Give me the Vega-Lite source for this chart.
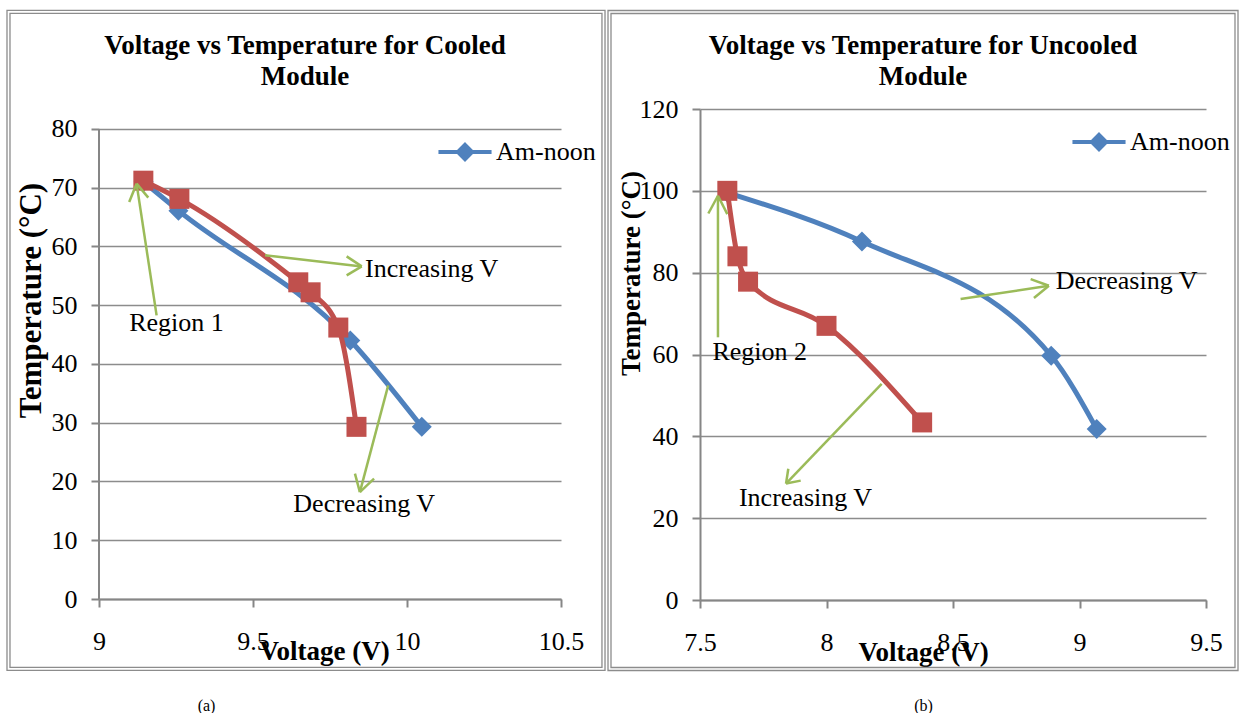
{
  "$schema": "https://vega.github.io/schema/vega-lite/v6.json",
  "background": "white",
  "padding": {"left": 6, "top": 9, "right": 0, "bottom": 0},
  "spacing": 1,
  "datasets": {
    "cooled": [
      {"series": "Am-noon", "voltage": 9.145, "temp": 71.0},
      {"series": "Am-noon", "voltage": 9.258, "temp": 66.1},
      {"series": "Am-noon", "voltage": 9.816, "temp": 44.0},
      {"series": "Am-noon", "voltage": 10.048, "temp": 29.3},
      {"series": "Noon-pm", "voltage": 9.144, "temp": 71.2},
      {"series": "Noon-pm", "voltage": 9.261, "temp": 68.1},
      {"series": "Noon-pm", "voltage": 9.647, "temp": 53.9},
      {"series": "Noon-pm", "voltage": 9.687, "temp": 52.2},
      {"series": "Noon-pm", "voltage": 9.777, "temp": 46.2},
      {"series": "Noon-pm", "voltage": 9.836, "temp": 29.3}
    ],
    "uncooled": [
      {"series": "Am-noon", "voltage": 7.61, "temp": 99.5},
      {"series": "Am-noon", "voltage": 8.14, "temp": 87.6},
      {"series": "Am-noon", "voltage": 8.888, "temp": 59.7},
      {"series": "Am-noon", "voltage": 9.068, "temp": 41.8},
      {"series": "Noon-pm", "voltage": 7.608, "temp": 100.0},
      {"series": "Noon-pm", "voltage": 7.648, "temp": 84.0},
      {"series": "Noon-pm", "voltage": 7.69, "temp": 77.8},
      {"series": "Noon-pm", "voltage": 8.0, "temp": 67.0},
      {"series": "Noon-pm", "voltage": 8.378, "temp": 43.4}
    ],
    "arrows_a": [
      {"x": 9.187, "y": 48.27, "x2": 9.122, "y2": 70.69},
      {"x": 9.098, "y": 67.56, "x2": 9.122, "y2": 70.69},
      {"x": 9.160, "y": 68.31, "x2": 9.122, "y2": 70.69},
      {"x": 9.539, "y": 58.49, "x2": 9.853, "y2": 56.61},
      {"x": 9.804, "y": 58.31, "x2": 9.853, "y2": 56.61},
      {"x": 9.804, "y": 55.08, "x2": 9.853, "y2": 56.61},
      {"x": 9.939, "y": 36.36, "x2": 9.847, "y2": 18.2},
      {"x": 9.831, "y": 21.33, "x2": 9.847, "y2": 18.2},
      {"x": 9.893, "y": 20.48, "x2": 9.847, "y2": 18.2}
    ],
    "notes_a": [
      {"label": "Increasing V", "x": 9.864, "y": 56.2},
      {"label": "Region 1", "x": 9.098, "y": 46.9},
      {"label": "Decreasing V", "x": 9.631, "y": 16.2}
    ],
    "arrows_b": [
      {"x": 7.571, "y": 64.2, "x2": 7.571, "y2": 98.8},
      {"x": 7.533, "y": 94.46, "x2": 7.571, "y2": 98.8},
      {"x": 7.608, "y": 94.3, "x2": 7.571, "y2": 98.8},
      {"x": 8.530, "y": 73.55, "x2": 8.879, "y2": 76.8},
      {"x": 8.807, "y": 78.44, "x2": 8.879, "y2": 76.8},
      {"x": 8.820, "y": 73.80, "x2": 8.879, "y2": 76.8},
      {"x": 8.218, "y": 52.8, "x2": 7.840, "y2": 28.45},
      {"x": 7.898, "y": 29.18, "x2": 7.840, "y2": 28.45},
      {"x": 7.849, "y": 32.09, "x2": 7.840, "y2": 28.45}
    ],
    "notes_b": [
      {"label": "Decreasing V", "x": 8.906, "y": 78.0},
      {"label": "Region 2", "x": 7.549, "y": 60.5},
      {"label": "Increasing V", "x": 7.654, "y": 25.0}
    ]
  },
  "hconcat": [
    {
      "width": 462,
      "height": 490,
      "title": {"text": ["Voltage vs Temperature for Cooled", "Module"], "dx": -25, "offset": -81, "frame": "group"},
      "layer": [
        {
          "data": {"values": [{}]},
          "mark": {"type": "rect", "fillOpacity": 0, "stroke": "#8C8C8C", "strokeWidth": 1.3},
          "encoding": {
            "x": {"datum": 8.7013, "type": "quantitative", "axis": null},
            "x2": {"datum": 10.6429},
            "y": {"datum": 100.19, "type": "quantitative"},
            "y2": {"datum": -12.15}
          }
        },
        {
          "data": {"values": [{}]},
          "mark": {"type": "rect", "fillOpacity": 0, "stroke": "#8C8C8C", "strokeWidth": 1.3},
          "encoding": {
            "x": {"datum": 8.711, "type": "quantitative", "axis": null},
            "x2": {"datum": 10.633},
            "y": {"datum": 99.68, "type": "quantitative"},
            "y2": {"datum": -11.64}
          }
        },
        {
          "data": {"name": "cooled"},
          "transform": [{"filter": "datum.series === 'Am-noon'"}],
          "mark": {"type": "line", "interpolate": "monotone", "strokeWidth": 5, "point": {"shape": "diamond", "size": 400, "filled": true, "opacity": 1}},
          "encoding": {
            "x": {"field": "voltage", "type": "quantitative", "scale": {"domain": [9, 10.5], "nice": false, "zero": false},
                  "axis": {"values": [9, 9.5, 10, 10.5], "format": "~g", "labelFont": "Liberation Serif", "titleFont": "Liberation Serif", "title": "Voltage (V)", "titleX": 225, "titleY": 52, "titleBaseline": "middle"}},
            "y": {"field": "temp", "type": "quantitative", "scale": {"domain": [0, 83.4], "nice": false},
                  "axis": {"values": [0, 10, 20, 30, 40, 50, 60, 70, 80], "domain": false, "labelFont": "Liberation Serif", "titleFont": "Liberation Serif", "title": "Temperature (°C)", "titleX": -68, "titleY": 191, "titleFontSize": 31, "titleBaseline": "middle"}},
            "color": {"field": "series", "type": "nominal", "scale": {"range": ["#4F81BD"]},
                      "legend": {"legendX": 346, "legendY": 23}}
          }
        },
        {
          "data": {"values": [{}]},
          "mark": {"type": "rule", "color": "#868686", "strokeWidth": 2},
          "encoding": {
            "x": {"datum": 9, "type": "quantitative", "axis": null},
            "y": {"datum": 0, "type": "quantitative"},
            "y2": {"datum": 80}
          }
        },
        {
          "data": {"name": "cooled"},
          "transform": [{"filter": "datum.series === 'Noon-pm'"}],
          "mark": {"type": "line", "interpolate": "monotone", "strokeWidth": 5, "color": "#C0504D", "point": {"shape": "square", "size": 400, "filled": true, "color": "#C0504D", "opacity": 1}},
          "encoding": {
            "x": {"field": "voltage", "type": "quantitative", "axis": null},
            "y": {"field": "temp", "type": "quantitative"}
          }
        },
        {
          "data": {"name": "arrows_a"},
          "mark": {"type": "rule", "color": "#9BBB59", "strokeWidth": 2.5},
          "encoding": {
            "x": {"field": "x", "type": "quantitative", "axis": null},
            "y": {"field": "y", "type": "quantitative"},
            "x2": {"field": "x2"},
            "y2": {"field": "y2"}
          }
        },
        {
          "data": {"name": "notes_a"},
          "mark": {"type": "text", "align": "left", "baseline": "middle", "font": "Liberation Serif", "fontSize": 26, "color": "black"},
          "encoding": {
            "x": {"field": "x", "type": "quantitative",
                  "axis": {"orient": "bottom", "title": "(a)", "labels": false, "ticks": false, "domain": false, "grid": false, "titleFont": "Liberation Serif", "titleX": 107, "titleY": 106, "titleFontWeight": "normal", "titleFontSize": 16, "titleBaseline": "middle"}},
            "y": {"field": "y", "type": "quantitative"},
            "text": {"field": "label"}
          }
        }
      ],
      "resolve": {"axis": {"x": "independent"}}
    },
    {
      "width": 506,
      "height": 491,
      "title": {"text": ["Voltage vs Temperature for Uncooled", "Module"], "dx": -30, "offset": -81, "frame": "group"},
      "layer": [
        {
          "data": {"values": [{}]},
          "mark": {"type": "rect", "fillOpacity": 0, "stroke": "#8C8C8C", "strokeWidth": 1.3},
          "encoding": {
            "x": {"datum": 7.1364, "type": "quantitative", "axis": null},
            "x2": {"datum": 9.6265},
            "y": {"datum": 144.07, "type": "quantitative"},
            "y2": {"datum": -17.23}
          }
        },
        {
          "data": {"values": [{}]},
          "mark": {"type": "rect", "fillOpacity": 0, "stroke": "#8C8C8C", "strokeWidth": 1.3},
          "encoding": {
            "x": {"datum": 7.1482, "type": "quantitative", "axis": null},
            "x2": {"datum": 9.6146},
            "y": {"datum": 143.34, "type": "quantitative"},
            "y2": {"datum": -16.50}
          }
        },
        {
          "data": {"name": "uncooled"},
          "transform": [{"filter": "datum.series === 'Am-noon'"}],
          "mark": {"type": "line", "interpolate": "monotone", "strokeWidth": 5, "point": {"shape": "diamond", "size": 400, "filled": true, "opacity": 1}},
          "encoding": {
            "x": {"field": "voltage", "type": "quantitative", "scale": {"domain": [7.5, 9.5], "nice": false, "zero": false},
                  "axis": {"values": [7.5, 8, 8.5, 9, 9.5], "format": "~g", "labelFont": "Liberation Serif", "titleFont": "Liberation Serif", "title": "Voltage (V)", "titleX": 223, "titleY": 52, "titleBaseline": "middle"}},
            "y": {"field": "temp", "type": "quantitative", "scale": {"domain": [0, 120], "nice": false},
                  "axis": {"values": [0, 20, 40, 60, 80, 100, 120], "labelFont": "Liberation Serif", "titleFont": "Liberation Serif", "title": "Temperature (°C)", "titleX": -69, "titleY": 164, "titleFontSize": 27, "titleBaseline": "middle"}},
            "color": {"field": "series", "type": "nominal", "scale": {"range": ["#4F81BD"]},
                      "legend": {"legendX": 379, "legendY": 13}}
          }
        },
        {
          "data": {"name": "uncooled"},
          "transform": [{"filter": "datum.series === 'Noon-pm'"}],
          "mark": {"type": "line", "interpolate": "monotone", "strokeWidth": 5, "color": "#C0504D", "point": {"shape": "square", "size": 400, "filled": true, "color": "#C0504D", "opacity": 1}},
          "encoding": {
            "x": {"field": "voltage", "type": "quantitative", "axis": null},
            "y": {"field": "temp", "type": "quantitative"}
          }
        },
        {
          "data": {"name": "arrows_b"},
          "mark": {"type": "rule", "color": "#9BBB59", "strokeWidth": 2.5},
          "encoding": {
            "x": {"field": "x", "type": "quantitative", "axis": null},
            "y": {"field": "y", "type": "quantitative"},
            "x2": {"field": "x2"},
            "y2": {"field": "y2"}
          }
        },
        {
          "data": {"name": "notes_b"},
          "mark": {"type": "text", "align": "left", "baseline": "middle", "font": "Liberation Serif", "fontSize": 26, "color": "black"},
          "encoding": {
            "x": {"field": "x", "type": "quantitative",
                  "axis": {"orient": "bottom", "title": "(b)", "labels": false, "ticks": false, "domain": false, "grid": false, "titleFont": "Liberation Serif", "titleX": 223, "titleY": 105, "titleFontWeight": "normal", "titleFontSize": 16, "titleBaseline": "middle"}},
            "y": {"field": "y", "type": "quantitative"},
            "text": {"field": "label"}
          }
        }
      ],
      "resolve": {"axis": {"x": "independent"}}
    }
  ],
  "resolve": {"scale": {"color": "independent"}},
  "config": {
    "font": "Liberation Serif",
    "view": {"stroke": null},
    "axis": {
      "labelFont": "Liberation Serif", "labelFontSize": 26, "labelColor": "black",
      "titleFont": "Liberation Serif", "titleFontSize": 27, "titleFontWeight": "bold", "titleColor": "black",
      "domainColor": "#868686", "domainWidth": 2, "tickColor": "#868686", "tickWidth": 2, "tickSize": 8,
      "gridColor": "#8C8C8C", "gridWidth": 1.6, "labelFlush": false, "labelOverlap": false
    },
    "axisX": {"grid": false, "labelPadding": 21, "labelFont": "Liberation Serif"},
    "axisY": {"grid": true, "labelPadding": 14, "labelFont": "Liberation Serif"},
    "title": {"font": "Liberation Serif", "fontSize": 27, "fontWeight": "bold", "color": "black", "lineHeight": 31, "anchor": "middle"},
    "legend": {
      "orient": "none", "title": null, "padding": 0,
      "symbolType": "M-1.5,0L1.5,0M0,-0.4L0.4,0L0,0.4L-0.4,0Z",
      "symbolSize": 1253, "symbolStrokeWidth": 4,
      "symbolFillColor": "#4F81BD", "symbolStrokeColor": "#4F81BD",
      "labelFont": "Liberation Serif", "labelFontSize": 26, "labelColor": "black", "labelOffset": 11
    }
  }
}
